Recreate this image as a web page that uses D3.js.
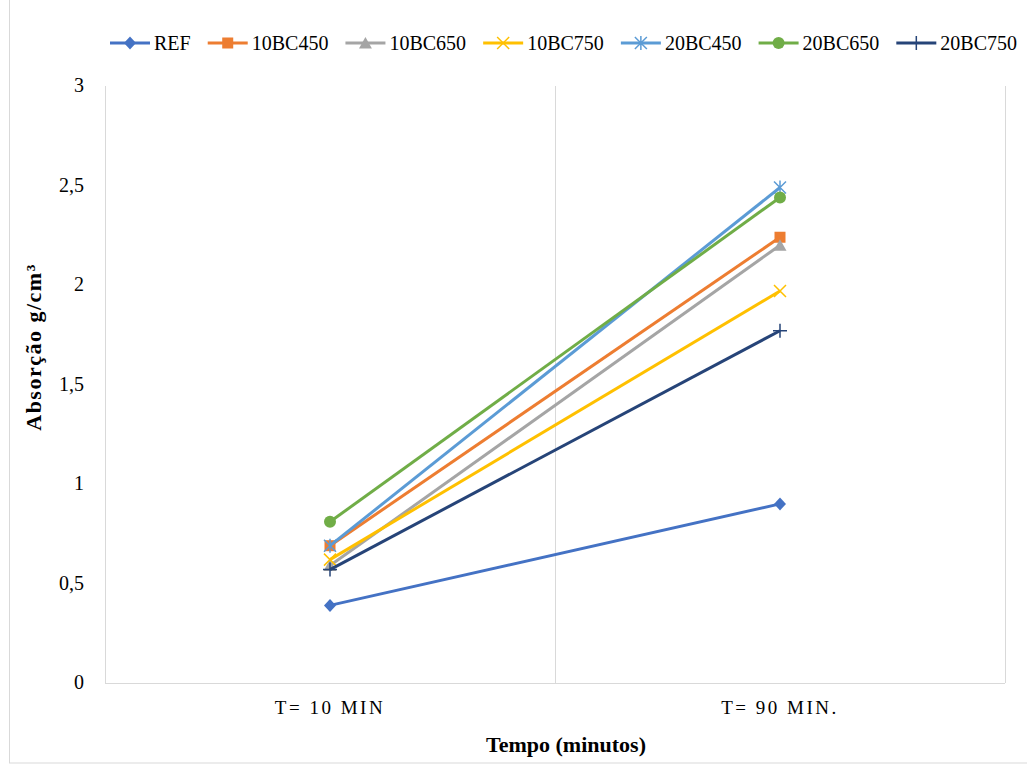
<!DOCTYPE html>
<html>
<head>
<meta charset="utf-8">
<script src="https://cdn.jsdelivr.net/npm/d3@7"></script>
<style>
  body { margin: 0; background: #fff; }
  text { font-family: "Liberation Serif", "Times New Roman", serif; fill: #000; }
</style>
</head>
<body>
<div id="chart"></div>
<script>
var categories = ['T= 10 MIN', 'T= 90 MIN.'];
var seriesNames = ['REF', '10BC450', '10BC650', '10BC750', '20BC450', '20BC650', '20BC750'];
var ref      = [0.39, 0.90];
var bc10_450 = [0.69, 2.24];
var bc10_650 = [0.59, 2.20];
var bc10_750 = [0.62, 1.97];
var bc20_450 = [0.69, 2.49];
var bc20_650 = [0.81, 2.44];
var bc20_750 = [0.57, 1.77];
var yTicks = [0, 0.5, 1, 1.5, 2, 2.5, 3];

var colors = ['#4472C4', '#ED7D31', '#A5A5A5', '#FFC000', '#5B9BD5', '#70AD47', '#264478'];
var markers = ['diamond', 'square', 'triangle', 'x', 'star', 'circle', 'plus'];
var values = [ref, bc10_450, bc10_650, bc10_750, bc20_450, bc20_650, bc20_750];

var series = seriesNames.map(function(n, i) {
  return { name: n, color: colors[i], marker: markers[i], values: values[i] };
});

var W = 1027, H = 765,
    pLeft = 105, pRight = 1005, pTop = 86, pBottom = 683;

var svg = d3.select('#chart').append('svg')
    .attr('width', W)
    .attr('height', H);

// outer chart border
svg.append('rect')
    .attr('x', 9.5).attr('y', -1)
    .attr('width', 1030).attr('height', 764)
    .attr('fill', 'none')
    .attr('stroke', '#d9d9d9');

var x = d3.scaleBand().domain(categories).range([pLeft, pRight]);
var y = d3.scaleLinear().domain([0, 3]).range([pBottom, pTop]);

// vertical gridlines at category edges
var edges = categories.map(function(c) { return x(c); }).concat([pRight]);
svg.selectAll('.vgrid')
    .data(edges)
  .enter().append('line')
    .attr('x1', function(d) { return d + 0.5; })
    .attr('x2', function(d) { return d + 0.5; })
    .attr('y1', pTop).attr('y2', pBottom)
    .attr('stroke', '#d9d9d9');

// bottom axis line
svg.append('line')
    .attr('x1', pLeft).attr('x2', pRight)
    .attr('y1', pBottom + 0.5).attr('y2', pBottom + 0.5)
    .attr('stroke', '#d9d9d9');

// y tick labels
svg.selectAll('.ytick')
    .data(yTicks)
  .enter().append('text')
    .attr('x', 84)
    .attr('y', function(d) { return y(d) + 6; })
    .attr('text-anchor', 'end')
    .style('font-size', '20px')
    .text(function(d) { return String(d).replace('.', ','); });

// x category labels
svg.selectAll('.xlab')
    .data(categories)
  .enter().append('text')
    .attr('x', function(d) { return x(d) + x.bandwidth() / 2; })
    .attr('y', 714)
    .attr('text-anchor', 'middle')
    .style('font-size', '19px')
    .style('letter-spacing', '2.5px')
    .text(function(d) { return d; });

// axis titles
svg.append('text')
    .attr('x', 566).attr('y', 752)
    .attr('text-anchor', 'middle')
    .style('font-size', '22px')
    .style('font-weight', 'bold')
    .text('Tempo (minutos)');

svg.append('text')
    .attr('transform', 'translate(41,347) rotate(-90)')
    .attr('text-anchor', 'middle')
    .style('font-size', '22px')
    .style('font-weight', 'bold')
    .style('letter-spacing', '1.5px')
    .text('Absorção g/cm³');

function cx(i) { return x(categories[i]) + x.bandwidth() / 2; }

function drawMarker(g, type, color) {
  if (type === 'diamond') {
    g.append('path').attr('d', 'M0,-6.5L6,0L0,6.5L-6,0Z').attr('fill', color);
  } else if (type === 'square') {
    g.append('rect').attr('x', -5.5).attr('y', -5.5).attr('width', 11).attr('height', 11)
      .attr('fill', color);
  } else if (type === 'triangle') {
    g.append('path').attr('d', 'M0,-6L6.5,5.5L-6.5,5.5Z').attr('fill', color);
  } else if (type === 'circle') {
    g.append('circle').attr('r', 6).attr('fill', color);
  } else if (type === 'x') {
    g.append('path').attr('d', 'M-6,-6L6,6M-6,6L6,-6')
      .attr('stroke', color).attr('stroke-width', 1.5).attr('fill', 'none');
  } else if (type === 'star') {
    g.append('path').attr('d', 'M-6,-6L6,6M-6,6L6,-6M0,-7L0,7')
      .attr('stroke', color).attr('stroke-width', 1.5).attr('fill', 'none');
  } else if (type === 'plus') {
    g.append('path').attr('d', 'M-7,0L7,0M0,-7L0,7')
      .attr('stroke', color).attr('stroke-width', 1.5).attr('fill', 'none');
  }
}

var line = d3.line()
    .x(function(d, i) { return cx(i); })
    .y(function(d) { return y(d); });

var sg = svg.selectAll('.series')
    .data(series)
  .enter().append('g');

sg.append('path')
    .attr('d', function(d) { return line(d.values); })
    .attr('fill', 'none')
    .attr('stroke', function(d) { return d.color; })
    .attr('stroke-width', 3);

sg.each(function(d) {
  var g = d3.select(this);
  d.values.forEach(function(v, i) {
    var m = g.append('g').attr('transform', 'translate(' + cx(i) + ',' + y(v) + ')');
    drawMarker(m, d.marker, d.color);
  });
});

// legend: lay items out, then spread the gaps so it spans 110..1017
var lg = svg.append('g');
var items = series.map(function(d) {
  var item = lg.append('g');
  item.append('line').attr('x1', 0).attr('x2', 40)
    .attr('stroke', d.color).attr('stroke-width', 3);
  drawMarker(item.append('g').attr('transform', 'translate(20,0)'), d.marker, d.color);
  var t = item.append('text').attr('x', 44).attr('y', 7)
    .style('font-size', '20px')
    .text(d.name);
  return { g: item, w: 44 + t.node().getComputedTextLength() };
});
var totalW = d3.sum(items, function(d) { return d.w; });
var gap = (1017 - 110 - totalW) / (items.length - 1);
var lx = 110;
items.forEach(function(it) {
  it.g.attr('transform', 'translate(' + lx + ',43)');
  lx += it.w + gap;
});
</script>
</body>
</html>
